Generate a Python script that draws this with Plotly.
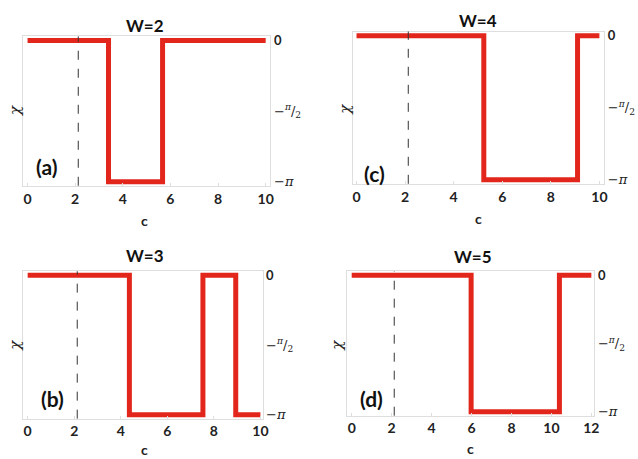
import numpy as np
import plotly.graph_objects as go

# breakpoints of the step curves (chi vs c)
c_a = [0, 3.4, 5.67, 10]
chi_a = [0, -np.pi, 0, 0]
c_b = [0, 4.37, 7.53, 8.94, 10]
chi_b = [0, -np.pi, 0, -np.pi, -np.pi]
c_c = [0, 5.24, 9.1, 10]
chi_c = [0, -np.pi, 0, 0]
c_d = [0, 5.98, 10.4, 12]
chi_d = [0, -np.pi, 0, 0]

titles = ["W=2", "W=3", "W=4", "W=5"]
labels = ["(a)", "(b)", "(c)", "(d)"]
c_dash = 2.13
y_tickvals = [0, -np.pi / 2, -np.pi]
y_ticktext = ['<span style="font-family:Lato"><b>0</b></span>',
              "−<sup><i>π</i></sup>/<sub>2</sub>", "−<i>π</i>"]
x_tickvals_10 = [0, 2, 4, 6, 8, 10]
x_tickvals_12 = [0, 2, 4, 6, 8, 10, 12]

W, H = 638, 459
RED = "#e2261c"
FRAME = "#dedede"
FONT = "Lato"


def px(x, y):
    return x / W, 1 - y / H


# panel boxes in pixels: left, top, right, bottom ; x-range
panels = [
    dict(data=(c_a, chi_a), box=(23, 33, 273, 185), xr=[-0.2, 10.2], ticks=x_tickvals_10,
         title=(146, 22), cl=(146, 220), chi=(15, 108), lab=(47, 165)),
    dict(data=(c_b, chi_b), box=(23, 272, 265, 422), xr=[-0.21, 10.09], ticks=x_tickvals_10,
         title=(146, 256), cl=(146, 453), chi=(15, 347), lab=(53, 402)),
    dict(data=(c_c, chi_c), box=(356, 28, 610, 183), xr=[-0.16, 10.2], ticks=x_tickvals_10,
         title=(483, 17), cl=(483, 218), chi=(348, 107), lab=(378, 173)),
    dict(data=(c_d, chi_d), box=(350, 272, 600, 419), xr=[-0.25, 12.15], ticks=x_tickvals_12,
         title=(477, 257), cl=(475, 452), chi=(340, 347), lab=(375, 402)),
]

fig = go.Figure()
annotations = []
shapes = []

for i, p in enumerate(panels):
    n = "" if i == 0 else str(i + 1)
    xs, ys = p["data"]
    fig.add_trace(go.Scatter(
        x=xs, y=ys, mode="lines", line=dict(shape="hv", color=RED, width=5),
        xaxis="x" + n, yaxis="y" + n, showlegend=False, hoverinfo="skip",
    ))
    l, t, r, b = p["box"]
    axis_x = dict(
        domain=[l / W, r / W], range=p["xr"], anchor="y" + n,
        showgrid=False, zeroline=False, showline=True, mirror=True,
        linecolor=FRAME, linewidth=1, ticks="inside", ticklen=3, tickcolor=FRAME,
        tickvals=p["ticks"],
        tickfont=dict(family=FONT, size=14, color="#222", weight="bold"),
    )
    axis_y = dict(
        domain=[1 - b / H, 1 - t / H], range=[-3.23, 0.09], anchor="x" + n,
        side="right", showgrid=False, zeroline=False, showline=True, mirror=True,
        linecolor=FRAME, linewidth=1, ticks="", tickvals=y_tickvals, ticktext=y_ticktext,
        tickfont=dict(family="DejaVu Serif", size=13, color="#222"),
    )
    fig.layout["xaxis" + n] = axis_x
    fig.layout["yaxis" + n] = axis_y

    shapes.append(dict(
        type="line", xref="x" + n, yref="y" + n + " domain",
        x0=c_dash, x1=c_dash, y0=0, y1=1,
        line=dict(color="#333", width=1, dash="dash"),
    ))

    common = dict(xref="paper", yref="paper", showarrow=False,
                  xanchor="center", yanchor="middle")
    ax, ay = px(*p["title"])
    annotations.append(dict(x=ax, y=ay, text="<b>%s</b>" % titles[i],
                            font=dict(family=FONT, size=17, color="#111"), **common))
    ax, ay = px(*p["cl"])
    annotations.append(dict(x=ax, y=ay, text="<b>c</b>",
                            font=dict(family=FONT, size=14, color="#222"), **common))
    ax, ay = px(*p["chi"])
    annotations.append(dict(x=ax, y=ay, text="<i>χ</i>", textangle=-90,
                            font=dict(family="DejaVu Serif", size=15, color="#222"), **common))
    ax, ay = px(*p["lab"])
    annotations.append(dict(x=ax, y=ay, text="<b>%s</b>" % labels[i],
                            font=dict(family=FONT, size=21, color="#111"), **common))

fig.update_layout(
    width=W, height=H, margin=dict(l=0, r=0, t=0, b=0),
    paper_bgcolor="white", plot_bgcolor="white",
    annotations=annotations, shapes=shapes,
)

# page body margin would shift the figure by 8px
fig.write_html(
    "out.html",
    config={"displayModeBar": False},
    post_script="document.body.style.margin='0';",
)
